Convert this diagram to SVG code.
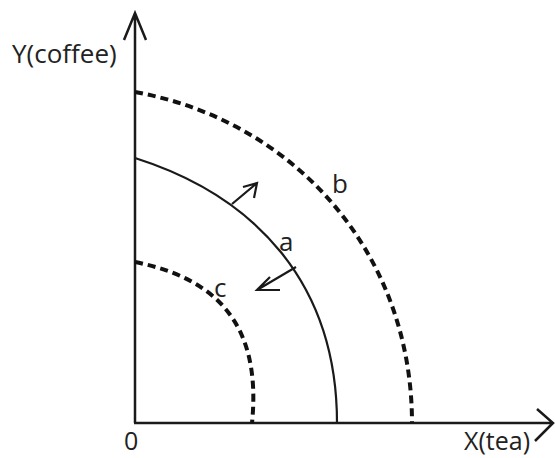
<svg xmlns="http://www.w3.org/2000/svg" width="555" height="458" viewBox="0 0 555 458">
<style>
.ax{fill:none;stroke:#1a1a1a;stroke-width:2.5;stroke-linecap:butt;stroke-linejoin:miter}
.solid{fill:none;stroke:#1a1a1a;stroke-width:2.2}
.dash{fill:none;stroke:#111;stroke-width:4;stroke-dasharray:8 5}
.arr{fill:none;stroke:#1a1a1a;stroke-width:2.2}
text{font-family:"Open Sans","Liberation Sans",sans-serif;font-size:26px;fill:#222}
.low{font-size:25px}
</style>
<rect width="555" height="458" fill="#fff"/>
<g id="axes">
<path class="ax" d="M135,423 V13 M124,40 L135,13 L146,40"/>
<path class="ax" d="M134,423 H553 M537,409 L553,423 L535,441"/>
<text x="12" y="63">Y(coffee)</text>
<text class="low" x="124" y="450">0</text>
<text class="low" x="464" y="450">X(tea)</text>
</g>
<g id="curve-b">
<path class="dash" d="M135,92 C295,121 412,253 412,423"/>
<text x="332" y="193">b</text>
</g>
<g id="curve-a">
<path class="solid" d="M135,158 C255,196 337,283 337,423"/>
<text x="279" y="251">a</text>
</g>
<g id="curve-c">
<path class="dash" d="M135,262 C215,278 262,323 252,423"/>
<text x="214" y="297">c</text>
</g>
<g id="connectors">
<path class="arr" d="M232,204 L257,183 M243,187 L257,183 L254,198"/>
<path class="arr" d="M296,267 L257,290 M270,277 L257,290 L280,290"/>
</g>
</svg>
